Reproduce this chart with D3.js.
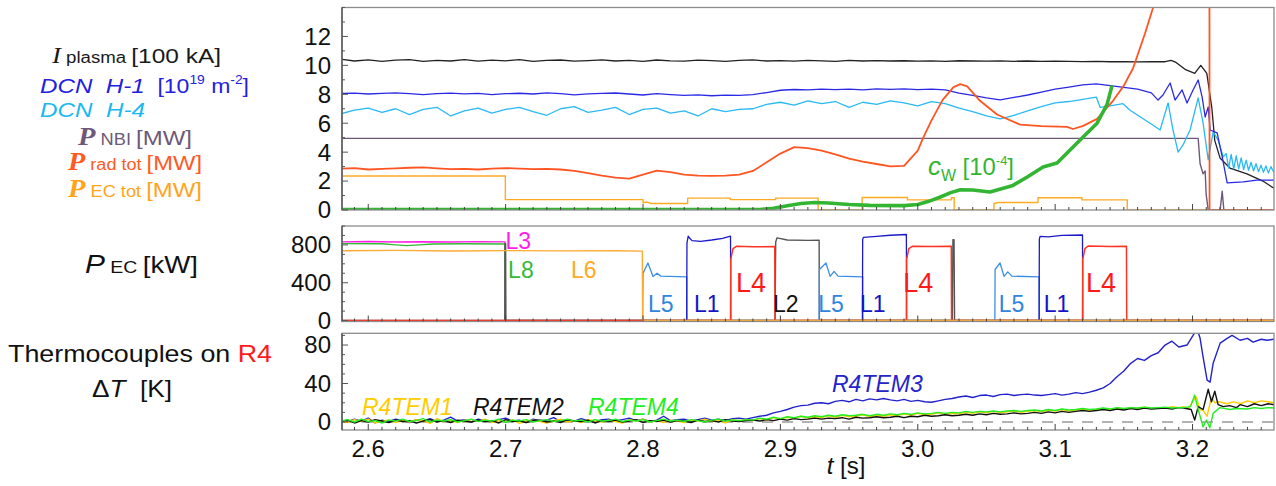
<!DOCTYPE html>
<html><head><meta charset="utf-8">
<script src="https://cdn.jsdelivr.net/npm/d3@7"></script>
<style>
html,body{margin:0;padding:0;background:#fff;}
svg{display:block;font-family:"Liberation Sans",Arial,sans-serif;}
text{white-space:pre;}
</style></head><body>
<svg id="chart" width="1276" height="486"></svg>
<script>
// ---------------- DATA ----------------
const xTickValues = [2.6, 2.7, 2.8, 2.9, 3.0, 3.1, 3.2];
const xTickLabels = ["2.6", "2.7", "2.8", "2.9", "3.0", "3.1", "3.2"];
const topTickValues = [0, 2, 4, 6, 8, 10, 12];
const midTickValues = [0, 400, 800];
const botTickValues = [0, 40, 80];

// Top panel: I_plasma [100 kA], sampled every 0.01 s from 2.58
const ipVals = [10.42,10.30,10.38,10.28,10.36,10.40,10.27,10.35,10.30,10.39,
  10.29,10.36,10.31,10.40,10.28,10.34,10.37,10.29,10.33,10.38,
  10.30,10.35,10.28,10.37,10.31,10.29,10.36,10.33,10.27,10.34,
  10.38,10.30,10.33,10.29,10.35,10.31,10.28,10.34,10.30,10.33,
  10.30,10.32,10.29,10.31,10.28,10.32,10.30,10.29,10.31,10.28,
  10.30,10.27,10.29,10.28,10.26,10.27,10.25,10.26,10.24,10.25];
const ipTail = [[3.180,10.25],[3.1844,10.35],[3.188,10.2],[3.195,9.7],[3.2016,9.45],[3.206,10.0],[3.2104,9.45],
  [3.214,7.1],[3.2162,4.8],[3.22,3.6],[3.2272,2.9],[3.2396,2.5],[3.2512,2.0],[3.2593,1.5]];

// DCN H-1 [1e19 m^-2], every 0.01 s from 2.58
const h1Vals = [8.05,8.08,8.02,8.06,8.10,8.04,7.97,8.05,8.08,8.03,
  8.06,7.98,8.04,8.07,8.02,8.10,8.05,7.96,8.03,8.06,
  8.09,8.02,7.95,8.04,7.98,7.92,7.96,7.90,7.94,7.92,
  7.98,8.12,8.28,8.33,8.30,8.36,8.32,8.35,8.31,8.37,
  8.34,8.38,8.32,8.36,8.30,8.08,7.92,7.75,7.62,7.78,
  7.95,8.15,8.35,8.50,8.65,8.72,8.60,8.48,8.35,8.10];
const h1Tail = [[3.1749,7.6],[3.1785,7.95],[3.1837,8.78],[3.1873,7.6],[3.1924,8.3],[3.196,7.4],[3.2004,8.3],
  [3.2041,8.99],[3.207,7.81],[3.2092,6.43],[3.2114,7.12],[3.2128,5.53],[3.2179,5.33],[3.2216,3.67],
  [3.2252,1.87],[3.2369,1.94],[3.247,2.07],[3.2593,2.07]];

// DCN H-4, every 0.01 s from 2.58
const h4Vals = [6.65,6.90,7.05,6.75,7.00,6.60,6.95,7.10,6.50,6.85,
  7.05,6.70,6.95,7.10,6.80,6.55,7.00,7.15,6.75,6.90,
  7.10,6.60,6.95,7.05,6.70,6.85,6.50,7.00,6.80,6.95,
  7.00,7.30,7.45,7.25,7.55,7.35,7.50,7.10,7.45,7.30,
  7.55,7.40,7.20,7.50,7.35,7.05,6.80,6.50,6.30,6.55,
  6.85,7.15,7.40,7.50,7.65,7.80];
const h4Tail = [[3.1327,7.1],[3.14,7.2],[3.1494,7.35],[3.1545,6.9],[3.1691,6.0],[3.1764,5.53],[3.1822,7.4],
  [3.1858,5.53],[3.1895,4.0],[3.1931,4.5],[3.1982,5.53],[3.2041,7.75],[3.2077,6.0],[3.2114,3.46],
  [3.215,5.4],[3.2186,4.84],[3.2223,3.67],[3.2245,3.9],[3.2263,2.9],[3.2281,3.85],[3.23,2.85],
  [3.2318,3.75],[3.2336,2.85],[3.2354,3.6],[3.2372,2.8],[3.239,3.45],[3.2408,2.75],[3.2426,3.3],
  [3.2444,2.7],[3.2462,3.2],[3.248,2.65],[3.2498,3.1],[3.2516,2.6],[3.2534,3.05],[3.2552,2.55],
  [3.257,3.0],[3.2593,2.6]];

// P_NBI [MW]
const nbi = [[2.5809,4.95],[3.2041,4.95],[3.2055,3.2],[3.2077,2.5],[3.2092,2.7],[3.2099,1.1],[3.2114,0],
  [3.2201,0],[3.2216,1.3],[3.2228,0],[3.2593,0]];

// P_rad tot [MW], every 0.01 s from 2.58 then tail
const pradVals = [2.85,2.90,2.80,2.84,2.88,2.92,2.95,2.88,2.82,2.85,
  2.80,2.86,2.90,2.86,2.82,2.84,2.80,2.70,2.55,2.38,
  2.24,2.17,2.45,2.72,2.62,2.45,2.38,2.36,2.38,2.45,
  2.70,3.30,3.90,4.35,4.28,4.10,3.85,3.55,3.35,3.18,
  3.02,3.05];
const pradTail = [[3.0,4.1],[3.004,5.0],[3.01,6.2],[3.018,7.6],[3.026,8.5],[3.031,8.7],[3.036,8.55],
  [3.0453,7.55],[3.0577,6.6],[3.0745,5.9],[3.09,5.8],[3.1087,5.75],[3.113,5.6],[3.12,5.8],[3.1305,6.3],
  [3.1421,7.55],[3.15,8.6],[3.1567,9.8],[3.1654,12.2],[3.1713,14],[3.18,17],[3.2123,17],[3.2124,0],[3.2593,0]];

// P_EC tot [MW]
const pecTot = [[2.5809,2.35],[2.6998,2.35],[2.6998,0.72],[2.8,0.72],[2.8,0.5],[2.803,0.55],[2.806,0.45],
  [2.8325,0.45],[2.8325,0.82],[2.8635,0.82],[2.8635,0.72],[2.8965,0.72],[2.8965,0.82],[2.9275,0.82],
  [2.9275,0],[2.9595,0],[2.9595,0.86],[2.9925,0.86],[2.9925,0.7],[3.0245,0.7],[3.0245,0.85],[3.0265,0.85],
  [3.0265,0],[3.0555,0],[3.0555,0.45],[3.0585,0.52],[3.0875,0.52],[3.0875,0.85],[3.1195,0.85],
  [3.1195,0.7],[3.1525,0.7],[3.1525,0],[3.2593,0]];

// c_W [1e-4]
const cw = [[2.5809,0.03],[2.885,0.03],[2.895,0.12],[2.905,0.3],[2.915,0.45],[2.925,0.52],[2.935,0.48],
  [2.95,0.38],[2.965,0.32],[2.99,0.3],[3.0,0.38],[3.008,0.6],[3.016,0.88],[3.024,1.2],[3.031,1.4],
  [3.04,1.38],[3.0526,1.25],[3.0693,1.7],[3.08,2.3],[3.0912,2.97],[3.1014,3.25],[3.1145,4.5],
  [3.1305,6.0],[3.1378,7.3],[3.1414,8.6]];

// Middle panel: gyrotron powers [kW]
const L3 = [[2.5809,832],[2.60,836],[2.62,830],[2.64,834],[2.66,831],[2.68,835],[2.6995,832],[2.6997,0],[3.2593,0]];
const L8 = [[2.5809,814],[2.61,812],[2.62,800],[2.628,792],[2.637,800],[2.647,810],[2.67,812],[2.6995,810],[2.6997,0],[3.2593,0]];
const L6 = [[2.5809,738],[2.62,742],[2.66,736],[2.70,740],[2.74,737],[2.78,739],[2.7995,734],[2.7997,0],[3.2593,0]];
const L5 = [[2.5809,0],[2.7997,0],[2.8,500],[2.8036,609],[2.8073,467],[2.8102,500],[2.813,470],[2.8318,462],[2.832,0],
  [2.9282,0],[2.9284,540],[2.9332,609],[2.9362,467],[2.9391,520],[2.942,470],[2.9599,462],[2.9601,0],
  [3.0561,0],[3.0563,540],[3.0599,609],[3.0628,467],[3.0655,515],[3.0685,470],[3.0883,462],[3.0885,0],[3.2593,0]];
const L1 = [[2.5809,0],[2.8318,0],[2.832,820],[2.8329,892],[2.834,870],[2.8357,845],[2.842,838],[2.85,852],[2.858,870],
  [2.8637,892],[2.8639,0],[2.9597,0],[2.9599,860],[2.9605,880],[2.97,890],[2.98,902],[2.9917,910],[2.9919,0],
  [3.0883,0],[3.0885,860],[3.089,890],[3.095,885],[3.105,900],[3.1199,905],[3.1201,0],[3.2593,0]];
const L4 = [[2.5809,0],[2.8637,0],[2.8639,650],[2.8655,760],[2.868,785],[2.88,780],[2.8959,782],[2.8961,0],
  [2.9917,0],[2.9919,650],[2.9935,760],[2.996,785],[3.01,782],[3.0244,785],[3.0246,0],
  [3.1199,0],[3.1201,650],[3.1217,760],[3.124,788],[3.14,782],[3.1519,785],[3.1521,0],[3.2593,0]];
const L2 = [[2.5809,0],[2.6994,0],[2.6996,812],[2.7,812],[2.7002,0],[2.8961,0],[2.8966,830],[2.8975,874],
  [2.905,852],[2.92,848],[2.9282,850],[2.9284,0],[3.0252,0],[3.0256,856],[3.0264,856],[3.0268,0],[3.2593,0]];
const gyroLabels = [["L3",2.6999,"#ff1ee6"],["L8",2.7018,"#33bb33"],["L6",2.7476,"#ffaa22"],
  ["L5",2.8036,"#2f86e0"],["L1",2.8371,"#1414c8"],["L4",2.8677,"#ff1a1a"],["L2",2.8946,"#111111"],
  ["L5",2.9276,"#2f86e0"],["L1",2.9579,"#1414c8"],["L4",2.9895,"#ff1a1a"],
  ["L5",3.0589,"#2f86e0"],["L1",3.0917,"#1414c8"],["L4",3.1225,"#ff1a1a"]];

// Bottom panel: thermocouple Delta T [K], every 0.005 s from 2.58 to 3.19, then tails
const tem1Vals = [1.5,-0.5,2.5,0.5,3.0,-1.0,1.0,2.0,-0.5,1.5,
  0.0,2.5,1.0,-1.5,3.5,0.5,1.5,-0.5,2.0,0.5,
  1.0,3.0,-0.5,1.5,0.0,2.5,-1.5,1.0,2.0,0.5,
  -1.0,1.5,3.0,0.0,1.5,-0.5,2.5,1.0,0.0,2.0,
  0.5,-1.0,2.5,1.0,3.0,0.0,1.5,-0.5,2.0,1.0,
  -0.5,2.0,1.0,3.0,0.5,1.5,-1.0,2.5,1.5,2.0,
  1.5,3.5,2.0,4.5,3.0,5.0,3.5,6.0,4.0,5.5,
  4.5,6.5,5.0,7.0,5.5,6.0,7.5,5.5,7.0,6.0,
  7.5,6.5,8.5,7.0,9.0,7.5,8.0,9.5,8.0,9.0,
  8.5,10.0,9.0,10.5,9.5,11.0,9.5,10.5,11.5,10.0,
  11.0,12.0,10.5,12.5,11.5,13.0,11.5,12.5,13.5,12.0,
  13.0,14.0,12.5,14.5,13.5,15.0,14.0,15.5,14.0,15.0,
  14.5,16.0,15.0];
const tem1Tail = [[3.1935,16],[3.197,14],[3.2004,22],[3.2028,26],[3.2053,13],[3.2077,12],[3.2106,6],
  [3.2138,26],[3.2162,20],[3.2199,21],[3.225,19],[3.23,21],[3.235,19],[3.24,22],[3.245,20],[3.25,22],
  [3.255,21],[3.2593,20]];
const tem2Vals = [0.5,2.0,-1.0,1.5,0.0,2.5,1.0,-0.5,2.0,0.5,
  1.5,-1.0,1.0,2.5,0.0,1.5,-0.5,2.0,1.0,0.0,
  2.0,0.5,1.5,-1.0,2.5,0.5,1.0,-0.5,1.5,2.0,
  0.0,1.0,-0.5,2.5,1.0,0.5,2.0,-1.0,1.5,0.5,
  2.0,0.0,1.0,2.5,-0.5,1.5,0.5,2.0,0.0,1.5,
  1.0,-0.5,2.0,0.5,1.5,0.0,2.5,1.0,0.5,1.5,
  2.0,1.0,2.5,1.5,3.0,2.0,3.5,2.5,3.0,4.0,
  3.0,4.0,3.5,4.5,3.0,5.0,4.0,4.5,5.5,4.5,
  5.0,6.0,4.5,6.0,5.5,7.0,6.0,6.5,7.5,6.5,
  7.0,8.0,7.0,8.5,7.5,9.0,8.0,8.5,9.5,8.5,
  9.0,10.0,9.0,10.5,9.5,11.0,10.0,11.0,12.0,11.0,
  12.0,13.0,12.0,13.5,12.5,14.0,13.0,14.5,13.5,14.0,
  14.5,13.5,15.0];
const tem2Tail = [[3.1935,14.5],[3.199,13],[3.2016,2],[3.2041,16],[3.2077,13],[3.2114,34],[3.2138,21],
  [3.2162,32],[3.2186,18],[3.2223,16],[3.227,17],[3.232,15],[3.2346,18],[3.24,16],[3.245,19],
  [3.25,17],[3.255,19],[3.2593,18]];
const tem3Vals = [2.0,0.0,3.0,1.0,4.0,-1.0,2.0,0.5,3.0,1.5,
  -0.5,2.5,1.0,3.5,0.5,2.0,5.0,1.0,2.5,0.0,
  3.0,1.5,0.0,2.5,4.0,1.0,2.0,-0.5,3.0,1.5,
  2.0,4.5,0.5,2.0,1.0,3.5,1.5,0.0,2.5,3.0,
  1.0,2.5,4.0,1.5,3.0,0.5,2.0,6.0,1.5,2.5,
  3.0,1.0,2.5,4.0,2.0,3.0,1.5,3.5,4.0,3.0,
  4.5,6.0,7.0,9.5,11.0,13.0,15.5,17.0,17.5,19.5,
  20.0,19.0,21.5,22.5,21.0,23.5,22.0,24.0,23.0,24.5,
  23.0,22.0,23.5,21.5,22.5,21.0,20.5,22.0,23.5,24.5,
  26.0,27.0,25.5,27.5,28.0,26.5,28.5,29.0,27.5,28.5,
  29.0,28.0,27.5,28.5,29.5,28.0,29.0,30.5,29.5,31.0,
  33.0,35.5,40.0,47.0,53.0,61.0,66.0,64.0,69.0,72.0,
  80.0,84.0,78.0];
const tem3Tail = [[3.196,80],[3.2004,90],[3.2033,97],[3.2055,87],[3.2077,67.5],[3.2106,43.6],[3.2128,41.5],
  [3.215,61],[3.2201,82],[3.2252,87],[3.2288,90],[3.2346,85],[3.24,87],[3.2441,83],[3.25,86],
  [3.2543,85],[3.2593,86]];
const tem4Vals = [1.0,2.5,0.0,3.0,0.5,1.5,-1.0,2.0,1.0,3.0,
  0.5,1.5,3.5,0.0,2.0,1.0,2.5,0.0,1.5,3.0,
  0.5,2.0,1.0,3.0,-0.5,2.0,1.0,2.5,0.0,1.5,
  2.5,0.5,1.5,3.0,1.0,2.0,0.0,2.5,1.0,1.5,
  3.0,0.5,2.0,1.0,2.5,0.0,1.5,3.0,1.0,2.0,
  0.5,2.5,1.5,0.0,2.0,3.0,1.0,2.0,1.5,2.5,
  2.0,4.0,3.0,5.0,3.5,5.5,4.5,6.0,5.0,6.5,
  5.5,7.0,6.0,7.5,6.5,7.0,8.0,6.5,8.0,7.0,
  8.5,7.5,9.0,8.0,9.5,8.5,9.0,10.0,9.0,10.0,
  9.5,11.0,10.0,11.0,10.5,11.5,10.5,11.5,12.0,11.0,
  12.0,12.5,11.5,13.0,12.0,13.5,12.5,13.0,14.0,13.0,
  13.5,14.5,13.5,15.0,14.0,15.0,14.5,15.5,14.5,15.0,
  15.5,14.5,15.0];
const tem4Tail = [[3.1935,15],[3.1985,16],[3.2016,28],[3.2041,13],[3.2077,-5],[3.2101,2],[3.2126,-6],
  [3.215,9],[3.2199,15],[3.2272,13],[3.232,14],[3.24,13.5],[3.245,15],[3.25,14],[3.255,15],[3.2593,14.5]];

// ---------------- DRAW ----------------
function grid(t0, dt, vals) { return vals.map((v, i) => [t0 + i * dt, v]); }

const svg = d3.select("#chart");
const L = 342, R = 1274;
const x = d3.scaleLinear().domain([2.5809, 3.2593]).range([L, R]);
const panels = {
  top: {y: d3.scaleLinear().domain([0, 14]).range([210, 7.5]), y0: 7.5, y1: 210, minor: 1, major: topTickValues},
  mid: {y: d3.scaleLinear().domain([-10, 1000]).range([321.5, 226]), y0: 226, y1: 321.5, minor: 100, major: midTickValues},
  bot: {y: d3.scaleLinear().domain([-8.3, 92.2]).range([430, 333.3]), y0: 333.3, y1: 430, minor: 10, major: botTickValues}
};

const defs = svg.append("defs");
Object.entries(panels).forEach(([k, p]) => {
  defs.append("clipPath").attr("id", "clip-" + k).append("rect")
    .attr("x", L).attr("y", p.y0).attr("width", R - L).attr("height", p.y1 - p.y0);
  p.g = svg.append("g").attr("clip-path", `url(#clip-${k})`);
});

function drawLine(p, data, color, w) {
  const line = d3.line().x(d => x(d[0])).y(d => p.y(d[1]));
  p.g.append("path").datum(data).attr("d", line).attr("fill", "none")
    .attr("stroke", color).attr("stroke-width", w).attr("stroke-linejoin", "round");
}

const T = panels.top, M = panels.mid, B = panels.bot;
// top panel
drawLine(T, pecTot, "#ffaa22", 1.4);
drawLine(T, nbi, "#6e5878", 1.4);
drawLine(T, grid(2.58, 0.01, ipVals).concat(ipTail), "#222222", 1.3);
drawLine(T, grid(2.58, 0.01, h4Vals).concat(h4Tail), "#29b9f5", 1.3);
drawLine(T, grid(2.58, 0.01, h1Vals).concat(h1Tail), "#2a2ae6", 1.3);
drawLine(T, grid(2.58, 0.01, pradVals).concat(pradTail), "#ff5522", 1.8);
drawLine(T, cw, "#33b533", 3.6);
// middle panel
drawLine(M, L3, "#ff1ee6", 1.4);
drawLine(M, L8, "#33bb33", 1.4);
drawLine(M, L2, "#555555", 1.4);
drawLine(M, L5, "#3a8ee6", 1.3);
drawLine(M, L1, "#1a1acc", 1.3);
drawLine(M, L4, "#ff3322", 1.5);
drawLine(M, L6, "#ffaa33", 1.4);
// bottom panel
B.g.append("line").attr("x1", L).attr("x2", R).attr("y1", B.y(0)).attr("y2", B.y(0))
  .attr("stroke", "#999").attr("stroke-width", 1.5).attr("stroke-dasharray", "11,9");
drawLine(B, grid(2.58, 0.005, tem3Vals).concat(tem3Tail), "#2222cc", 1.4);
drawLine(B, grid(2.58, 0.005, tem1Vals).concat(tem1Tail), "#ffcc00", 1.4);
drawLine(B, grid(2.58, 0.005, tem2Vals).concat(tem2Tail), "#111111", 1.4);
drawLine(B, grid(2.58, 0.005, tem4Vals).concat(tem4Tail), "#22ee22", 1.4);

// frames and ticks
Object.values(panels).forEach(p => {
  svg.append("rect").attr("x", L).attr("y", p.y0).attr("width", R - L).attr("height", p.y1 - p.y0)
    .attr("fill", "none").attr("stroke", "#8c8c8c").attr("stroke-width", 1.3);
  svg.append("line").attr("x1", L).attr("x2", L).attr("y1", p.y0).attr("y2", p.y1)
    .attr("stroke", "#555").attr("stroke-width", 1.4);
  const d = p.y.domain();
  const minorV = d3.range(Math.ceil(d[0] / p.minor), Math.floor(d[1] / p.minor) + 1).map(i => i * p.minor);
  minorV.forEach(v => {
    const isMajor = p.major.includes(v);
    svg.append("line").attr("x1", L).attr("x2", L + (isMajor ? 6 : 3))
      .attr("y1", p.y(v)).attr("y2", p.y(v)).attr("stroke", "#555").attr("stroke-width", 1);
  });
  p.major.forEach(v => {
    svg.append("text").attr("x", 331).attr("y", p.y(v)).attr("dy", "0.35em")
      .attr("text-anchor", "end").attr("font-size", 24).attr("fill", "#111").text(v);
  });
  // x ticks along the bottom of each panel
  d3.range(259, 326).forEach(i => {
    const t = i / 100;
    const isMajor = i % 10 === 0;
    svg.append("line").attr("x1", x(t)).attr("x2", x(t)).attr("y1", p.y1).attr("y2", p.y1 - (isMajor ? 6 : 3))
      .attr("stroke", "#444").attr("stroke-width", 1);
  });
});
xTickValues.forEach((v, i) => {
  svg.append("text").attr("x", x(v)).attr("y", 457).attr("text-anchor", "middle")
    .attr("font-size", 24).attr("fill", "#111").text(xTickLabels[i]);
});

// rich labels
function label(xp, yp, color, parts, width, anchor) {
  const t = svg.append("text").attr("x", xp).attr("y", yp).attr("fill", color)
    .attr("text-anchor", anchor || "start");
  parts.forEach(pt => {
    const s = t.append("tspan").text(pt.t).attr("font-size", pt.fs || 24);
    if (pt.ff) s.attr("font-family", pt.ff);
    if (pt.it) s.attr("font-style", "italic");
    if (pt.bd) s.attr("font-weight", "bold");
    if (pt.dy) s.attr("dy", pt.dy);
    if (pt.fill) s.attr("fill", pt.fill);
  });
  if (width) t.attr("textLength", width).attr("lengthAdjust", "spacingAndGlyphs");
  return t;
}
const serif = "Liberation Serif, Times New Roman, serif";
label(52, 63, "#1a1a1a", [{t: "I", ff: serif, it: 1, fs: 23}, {t: " plasma ", fs: 16}, {t: "[100 kA]", fs: 21}], 169);
label(40, 93, "#2121e0", [{t: "DCN  H-1", it: 1, fs: 21}, {t: "  [10", fs: 20}, {t: "19", fs: 12, dy: -9},
  {t: " m", fs: 20, dy: 9}, {t: "-2", fs: 12, dy: -9}, {t: "]", fs: 20, dy: 9}], 209);
label(40, 117, "#1ab8f0", [{t: "DCN  H-4", it: 1, fs: 21}], 105);
label(78, 145, "#6e5878", [{t: "P", ff: serif, it: 1, bd: 1, fs: 25}, {t: " NBI ", fs: 16}, {t: "[MW]", fs: 21}], 114);
label(68, 170, "#ff5a1f", [{t: "P", ff: serif, it: 1, bd: 1, fs: 25}, {t: " rad tot ", fs: 16}, {t: "[MW]", fs: 21}], 134);
label(68, 197, "#ffa31a", [{t: "P", ff: serif, it: 1, bd: 1, fs: 25}, {t: " EC tot ", fs: 16}, {t: "[MW]", fs: 21}], 134);
label(85, 273, "#111", [{t: "P", it: 1, fs: 26}, {t: " EC ", fs: 17}, {t: "[kW]", fs: 24}], 113);
label(8, 362, "#111", [{t: "Thermocouples on ", fs: 24}, {t: "R4", fs: 24, fill: "#ff1a1a"}], 264);
label(92, 397, "#111", [{t: "Δ", fs: 24}, {t: "T", it: 1, fs: 24}, {t: "  [K]", fs: 24}], 80);
label(928, 175, "#33b533", [{t: "c", it: 1, fs: 26}, {t: "W", fs: 16, dy: 6}, {t: " [10", fs: 24, dy: -6},
  {t: "-4", fs: 13, dy: -10}, {t: "]", fs: 24, dy: 10}], 86);
label(846, 474, "#111", [{t: "t", it: 1, fs: 24}, {t: " [s]", fs: 24}], null, "middle");

// thermocouple labels
[["R4TEM1", 362, 415, "#ffcc00"], ["R4TEM2", 473, 415, "#111111"], ["R4TEM4", 588, 415, "#22ee22"],
 ["R4TEM3", 832, 392, "#2424c8"]].forEach(d => {
  svg.append("text").attr("x", d[1]).attr("y", d[2]).attr("fill", d[3]).attr("font-style", "italic")
    .attr("font-size", 23).text(d[0]);
});
// gyrotron labels
gyroLabels.forEach(d => {
  const big = d[0] === "L4";
  const top = d[0] === "L3";
  const midRow = d[0] === "L8" || d[0] === "L6";
  const yy = top ? 249 : big ? 292 : midRow ? 278 : 312;
  svg.append("text").attr("x", x(d[1])).attr("y", yy).attr("fill", d[2])
    .attr("font-size", big ? 27 : 23).text(d[0]);
});
</script>
</body></html>
